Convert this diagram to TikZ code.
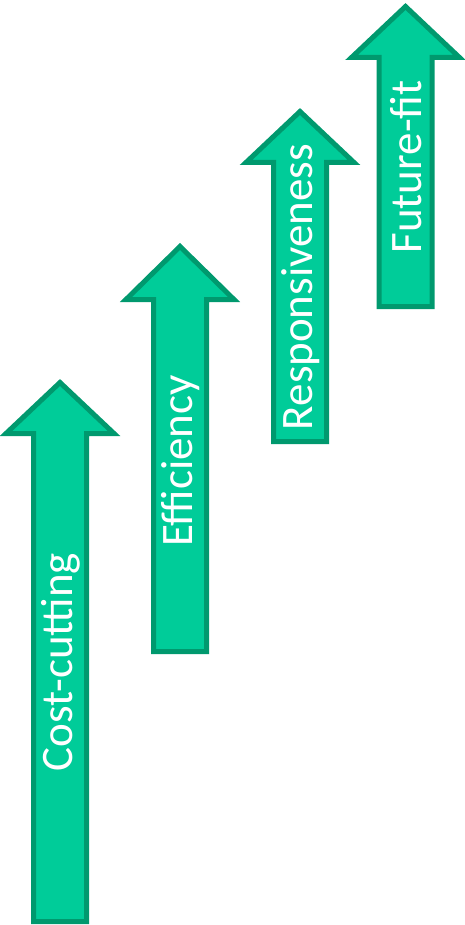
\documentclass[tikz,border=0pt]{standalone}
\usepackage{fontspec}
\setmainfont{Carlito}
\definecolor{arrfill}{RGB}{0,204,153}
\definecolor{arrline}{RGB}{0,153,110}
\tikzset{
  uparrow/.style={fill=arrfill, draw=arrline, line width=5pt, miter limit=10},
  arrlabel/.style={text=white, font=\fontsize{45}{54}\selectfont, rotate=90, inner sep=0pt}
}
\newcommand{\uparr}[5]{% name, cx, tip(outer), base(outer), bottom(outer)
  \path[uparrow] (#2-26.5,#5-2.5) -- (#2-26.5,#4-2.5) -- (#2-54,#4-2.5) -- (#2,#3+3.5)
     -- (#2+54,#4-2.5) -- (#2+26.5,#4-2.5) -- (#2+26.5,#5-2.5) -- cycle;
  \coordinate (#1) at (#2,{(#3+#5)/2});
}
\begin{document}
\begin{tikzpicture}[x=1pt,y=-1pt]
\useasboundingbox (0,0) rectangle (465,925);
\uparr{a1}{60}{379}{436}{924}
\uparr{a2}{180}{243}{302}{654}
\uparr{a3}{300}{108}{165}{444}
\uparr{a4}{405.5}{3}{60}{309}
\node[arrlabel] (t1) at (61,662) {Cost-cutting};
\node[arrlabel] (t2) at (181,461) {Efficiency};
\node[arrlabel] (t3) at (301,287) {Responsiveness};
\node[arrlabel] (t4) at (406,167) {Future-fit};
\end{tikzpicture}
\end{document}
